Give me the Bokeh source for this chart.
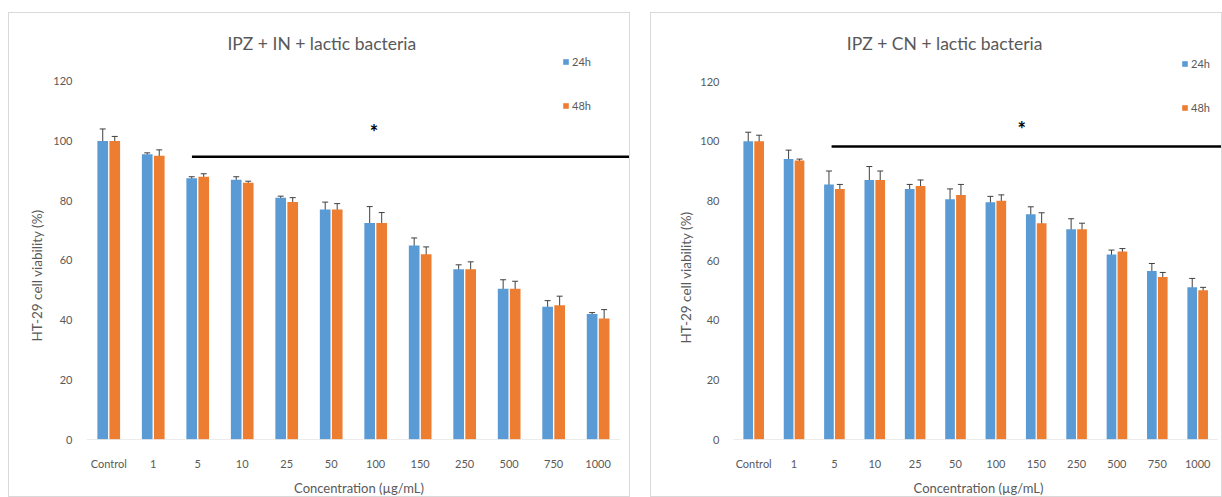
from bokeh.plotting import figure
from bokeh.models import (ColumnDataSource, Whisker, TeeHead, FixedTicker, Legend,
                          LegendItem, Label, Range1d, Title)
from bokeh.layouts import row
from bokeh.embed import file_html
from bokeh.resources import INLINE

# ---------------- data ----------------
categories = ["Control", "1", "5", "10", "25", "50", "100", "150", "250", "500", "750", "1000"]
y_ticks = [0, 20, 40, 60, 80, 100, 120]
series_names = ["24h", "48h"]

in_24h = [100, 95.5, 87.5, 87, 81, 77, 72.5, 65, 57, 50.5, 44.5, 42]
in_24h_err = [4, 0.5, 0.5, 1, 0.5, 2.5, 5.5, 2.5, 1.5, 3, 2, 0.5]
in_48h = [100, 95, 88, 86, 79.5, 77, 72.5, 62, 57, 50.5, 45, 40.5]
in_48h_err = [1.5, 2, 1, 0.5, 1.5, 2, 3.5, 2.5, 2.5, 2.5, 3, 3]

cn_24h = [100, 94, 85.5, 87, 84, 80.5, 79.5, 75.5, 70.5, 62, 56.5, 51]
cn_24h_err = [3, 3, 4.5, 4.5, 1.5, 3.5, 2, 2.5, 3.5, 1.5, 2.5, 3]
cn_48h = [100, 93.5, 84, 87, 85, 82, 80, 72.5, 70.5, 63, 54.5, 50]
cn_48h_err = [2, 0.5, 1.5, 3, 2, 3.5, 2, 3.5, 2, 1, 1.5, 1]

# significance bar (value level) and star
in_sig_y = 94.7
in_star_y = 103
cn_sig_y = 98.2
cn_star_y = 104

BLUE = "#5B9BD5"
ORANGE = "#ED7D31"
GREY_TXT = "#595959"
FONT = "Lato"


def make_panel(title, v24, e24, v48, e48, width, border_left, x_end, y_end,
               sig_y, sig_x0, star_x, star_y, title_x, title_y, legend_x, legend_y,
               frame_bottom_border, ylab_standoff, ylab_offset):
    n = len(categories)
    xs = list(range(n))
    p = figure(width=width, height=485, output_backend="svg", toolbar_location=None,
               x_range=Range1d(-0.5, x_end), y_range=Range1d(0, y_end),
               min_border_left=border_left, min_border_right=0,
               min_border_top=0, min_border_bottom=frame_bottom_border,
               outline_line_color=None, background_fill_color="white",
               border_fill_color="white")
    p.styles = {"border": "1px solid #d9d9d9", "box-sizing": "border-box"}
    p.xgrid.visible = False
    p.ygrid.visible = False

    off = 0.135
    bw = 0.24
    src24 = ColumnDataSource(dict(x=[x - off for x in xs], top=v24,
                                  lo=[a - b for a, b in zip(v24, e24)],
                                  hi=[a + b for a, b in zip(v24, e24)]))
    src48 = ColumnDataSource(dict(x=[x + off for x in xs], top=v48,
                                  lo=[a - b for a, b in zip(v48, e48)],
                                  hi=[a + b for a, b in zip(v48, e48)]))
    r24 = p.vbar(x="x", top="top", width=bw, source=src24, fill_color=BLUE, line_color=None)
    r48 = p.vbar(x="x", top="top", width=bw, source=src48, fill_color=ORANGE, line_color=None)
    for s in (src24, src48):
        w = Whisker(base="x", lower="lo", upper="hi", source=s, line_color="#404040",
                    line_width=1,
                    upper_head=TeeHead(size=6, line_color="#404040", line_width=1),
                    lower_head=TeeHead(size=6, line_color="#404040", line_width=1))
        p.add_layout(w)

    # baseline (category axis line)
    p.segment(x0=[-0.5], y0=[0], x1=[n - 0.5], y1=[0], line_color="#d9d9d9", line_width=1)

    # significance line and star
    p.segment(x0=[sig_x0], y0=[sig_y], x1=[x_end], y1=[sig_y], line_color="black", line_width=2.5)
    p.add_layout(Label(x=star_x, y=star_y, text="*", text_font=FONT, text_font_size="20px",
                       text_font_style="bold", text_color="black",
                       text_align="center", text_baseline="middle"))

    # title
    p.add_layout(Label(x=title_x, y=title_y, text=title, text_font=FONT, text_font_size="17.5px",
                       text_color=GREY_TXT, text_align="center", text_baseline="middle"))

    # axes
    p.xaxis.ticker = FixedTicker(ticks=xs)
    p.xaxis.major_label_overrides = {i: c for i, c in enumerate(categories)}
    p.xaxis.axis_line_color = None
    p.xaxis.major_tick_line_color = None
    p.xaxis.minor_tick_line_color = None
    p.xaxis.major_label_standoff = 11
    p.xaxis.major_label_text_font = FONT
    p.xaxis.major_label_text_font_size = "11px"
    p.xaxis.major_label_text_color = GREY_TXT
    p.xaxis.axis_label = "Concentration (µg/mL)"
    p.xaxis.axis_label_text_font = FONT
    p.xaxis.axis_label_text_font_size = "13px"
    p.xaxis.axis_label_text_font_style = "normal"
    p.xaxis.axis_label_text_color = GREY_TXT
    p.xaxis.axis_label_standoff = 7

    p.yaxis.ticker = FixedTicker(ticks=y_ticks)
    p.yaxis.axis_line_color = None
    p.yaxis.major_tick_line_color = None
    p.yaxis.minor_tick_line_color = None
    p.yaxis.major_label_standoff = 8
    p.yaxis.major_label_text_font = FONT
    p.yaxis.major_label_text_font_size = "11px"
    p.yaxis.major_label_text_color = GREY_TXT

    ylab = Title(text="HT-29 cell viability (%)", align="left", offset=ylab_offset,
                 standoff=ylab_standoff, text_font=FONT, text_font_size="13.5px",
                 text_font_style="normal", text_color=GREY_TXT)
    p.add_layout(ylab, "left")

    legend = Legend(items=[LegendItem(label=series_names[0], renderers=[r24]),
                           LegendItem(label=series_names[1], renderers=[r48])],
                    location=(legend_x, legend_y), orientation="vertical",
                    glyph_width=7, glyph_height=7, label_height=10, spacing=31,
                    padding=0, margin=0, label_standoff=3,
                    label_text_font=FONT, label_text_font_size="11px",
                    label_text_color=GREY_TXT, border_line_color=None,
                    background_fill_alpha=0)
    p.add_layout(legend)
    return p


p1 = make_panel("IPZ + IN + lactic bacteria", in_24h, in_24h_err, in_48h, in_48h_err,
                width=622, border_left=77, x_end=11.75, y_end=142.67,
                sig_y=in_sig_y, sig_x0=1.87, star_x=5.96, star_y=in_star_y,
                title_x=4.79, title_y=132.7, legend_x=476, legend_y=327,
                frame_bottom_border=57, ylab_standoff=12, ylab_offset=98)
p1.margin = (12, 0, 0, 8)

p2 = make_panel("IPZ + CN + lactic bacteria", cn_24h, cn_24h_err, cn_48h, cn_48h_err,
                width=572, border_left=82, x_end=11.64, y_end=142.8,
                sig_y=cn_sig_y, sig_x0=1.93, star_x=6.64, star_y=cn_star_y,
                title_x=4.73, title_y=132.7, legend_x=448, legend_y=325,
                frame_bottom_border=59, ylab_standoff=8, ylab_offset=96)
p2.margin = (12, 0, 0, 20)

layout = row(p1, p2)
open("out.html", "w").write(file_html(layout, INLINE))
